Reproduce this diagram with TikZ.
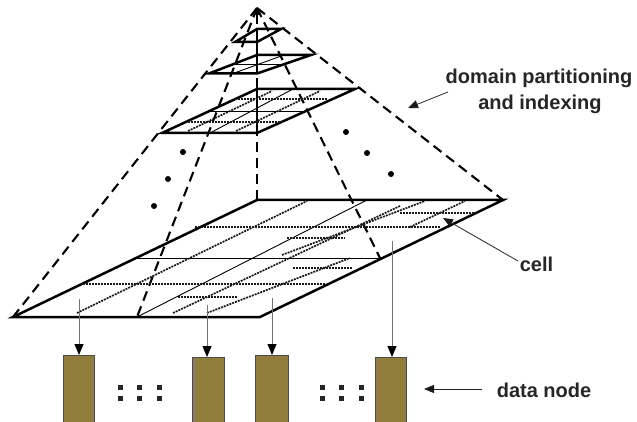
\documentclass[tikz,border=0pt]{standalone}
\usepackage{fontspec}
\setmainfont{Liberation Sans}
\usetikzlibrary{arrows.meta,calc}
\definecolor{olivebox}{RGB}{144,125,60}
\begin{document}
\begin{tikzpicture}[x=1pt,y=-1pt,
  edge/.style={line width=2.5pt},
  pdash/.style={line width=2.1pt, dash pattern=on 10pt off 6pt},
  thinl/.style={line width=0.9pt},
  dotl/.style={line width=1.7pt, dash pattern=on 2pt off 1pt, black!90},
  varrow/.style={line width=0.9pt, black!55, -{Triangle[width=9pt,length=11pt,color=black]}},
  larrow/.style={line width=0.8pt, black!85, -{Triangle[width=8pt,length=10pt,color=black!90]}},
  dnode/.style={draw=black!70, fill=olivebox, line width=0.8pt, inner sep=0pt, outer sep=0pt, anchor=north, minimum height=72pt},
  lbl/.style={font=\fontsize{20}{24}\selectfont\bfseries, text=black!85, inner sep=0pt, anchor=base},
  pdot/.style={fill=black, circle, inner sep=0pt, minimum size=6pt},
  sq/.style={fill=black!85, inner sep=0pt, minimum size=5pt}
]
\useasboundingbox (0,0) rectangle (637,422);
\fill[white] (0,0) rectangle (637,422);

% ---- coordinates
\coordinate (A) at (257,8);
\coordinate (Q0FL) at (13,317);  \coordinate (Q0FR) at (260,317);
\coordinate (Q0BR) at (503,200); \coordinate (Q0BL) at (257,200);
\coordinate (Q1FL) at (162,133); \coordinate (Q1FR) at (257,133);
\coordinate (Q1BR) at (355,89);  \coordinate (Q1BL) at (257,89);
\coordinate (Q2FL) at (209,73.5);\coordinate (Q2FR) at (257,73.5);
\coordinate (Q2BR) at (311,55);  \coordinate (Q2BL) at (257,55);
\coordinate (Q3FL) at (235,42);  \coordinate (Q3FR) at (257,42);
\coordinate (Q3BR) at (281,29);  \coordinate (Q3BL) at (257,29);
\coordinate (D1) at (137,317);
\coordinate (D2) at (380,258);

% ---- pyramid dashed lines
\draw[pdash] (A) -- (Q0FL);
\draw[pdash] (A) -- (D1);
\draw[pdash] (A) -- (D2);
\draw[pdash] (A) -- (Q0BR);
\draw[pdash, -{Triangle[width=6pt,length=7pt]}] (Q0BL) -- (A);

% ---- bottom plane
\draw[edge] (Q0FL) -- (Q0FR) -- (Q0BR) -- (Q0BL) -- cycle;
\draw[thinl] ($(Q0FL)!0.5!(Q0BL)$) -- ($(Q0FR)!0.5!(Q0BR)$);
\draw[thinl] (D1) -- (367,200);
\draw[dotl] (195,227) -- (440,227);
\draw[dotl] (400,213) -- (478,213);
\draw[dotl] (287,238) -- (345,238);
\draw[dotl] (293,268) -- (352,268);
\draw[dotl] (80,284) -- (325,284);
\draw[dotl] (178,297) -- (238,297);
\draw[dotl] (77,313) -- (307,201);
\draw[dotl] (173,313) -- (400,206);
\draw[dotl] (207,313) -- (350,258);
\draw[dotl] (282,255) -- (425,201);
\draw[dotl] (410,227) -- (465,201);

% ---- level 1
\draw[edge] (Q1FL) -- (Q1FR) -- (Q1BR) -- (Q1BL) -- cycle;
\draw[edge] (Q1BL) -- (Q1FR);
\draw[thinl] ($(Q1FL)!0.5!(Q1BL)$) -- ($(Q1FR)!0.5!(Q1BR)$);
\draw[thinl] (210,133) -- (293,89);
\draw[dotl] (235,99) -- (327,99);
\draw[dotl] (188,122) -- (283,122);
\draw[dotl] (188,131) -- (272,91);
\draw[dotl] (236,131) -- (320,91);

% ---- level 2
\draw[edge] (Q2FL) -- (Q2FR) -- (Q2BR) -- (Q2BL) -- cycle;
\draw[thinl] ($(Q2FL)!0.5!(Q2BL)$) -- ($(Q2FR)!0.5!(Q2BR)$);
\draw[thinl] ($(Q2FL)!0.5!(Q2FR)$) -- ($(Q2BL)!0.5!(Q2BR)$);

% ---- level 3
\draw[edge] (Q3FL) -- (Q3FR) -- (Q3BR) -- (Q3BL) -- cycle;
\draw[edge] (Q3BL) -- (Q2FR);

% ---- ellipsis dots in pyramid
\node[pdot] (dl1) at (183,152) {};
\node[pdot] (dl2) at (168,179) {};
\node[pdot] (dl3) at (154,206) {};
\node[pdot] (dr1) at (346,132) {};
\node[pdot] (dr2) at (367,153) {};
\node[pdot] (dr3) at (391,174) {};

% ---- data nodes
\node[dnode, minimum width=31pt] (b1) at (78.5,355) {};
\node[dnode, minimum width=32pt] (b2) at (208,357) {};
\node[dnode, minimum width=33pt] (b3) at (271.5,355) {};
\node[dnode, minimum width=31pt] (b4) at (391,357) {};

\coordinate (s1) at (79,299);
\coordinate (s2) at (207,305);
\coordinate (s3) at (272,298);
\coordinate (s4) at (392,241);
\draw[varrow] (s1) -- (s1 |- b1.north);
\draw[varrow] (s2) -- (s2 |- b2.north);
\draw[varrow] (s3) -- (s3 |- b3.north);
\draw[varrow] (s4) -- (s4 |- b4.north);

% ---- square dots
\node[sq] (qa1) at (120,387) {}; \node[sq] (qa2) at (139,387) {}; \node[sq] (qa3) at (159,387) {};
\node[sq] (qa4) at (120,398) {}; \node[sq] (qa5) at (139,398) {}; \node[sq] (qa6) at (159,398) {};
\node[sq] (qb1) at (322,387) {}; \node[sq] (qb2) at (341,387) {}; \node[sq] (qb3) at (361,387) {};
\node[sq] (qb4) at (322,398) {}; \node[sq] (qb5) at (341,398) {}; \node[sq] (qb6) at (361,398) {};

% ---- labels
\node[lbl] (dp1) at (539,84) {domain partitioning};
\node[lbl] (dp2) at (540,110) {and indexing};
\node[lbl] (cl) at (536.5,271.5) {cell};
\node[lbl] (dn) at (544,397) {data node};

\coordinate (dpa) at (448,92);  \coordinate (dpt) at (408,108);
\coordinate (cla) at (518,261); \coordinate (clt) at (443,218);
\coordinate (dna) at (482,389); \coordinate (dnt) at (424,389);
\draw[larrow] (dpa) -- (dpt);
\draw[larrow] (cla) -- (clt);
\draw[larrow] (dna) -- (dnt);
\end{tikzpicture}
\end{document}
